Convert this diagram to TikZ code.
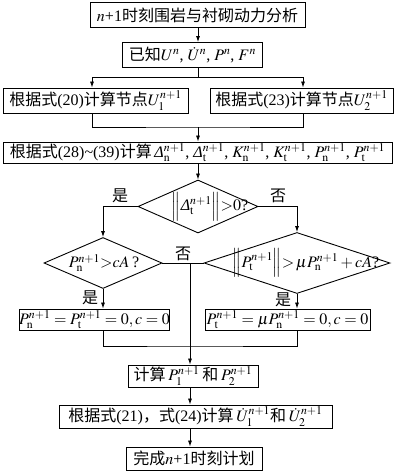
\documentclass[tikz,border=0pt]{standalone}
\usepackage{mathptmx}
\usepackage{fontspec}
\setmainfont{Liberation Serif}
\newfontfamily\cjk{Noto Sans CJK SC}
\usetikzlibrary{arrows.meta,shapes.geometric}
\begin{document}
\begin{tikzpicture}[x=1pt,y=-1pt,
  font=\fontsize{16}{19}\selectfont,
  box/.style={draw,line width=0.9pt,inner sep=0pt},
  dia/.style={draw,diamond,line width=0.9pt,inner sep=0pt},
  arr/.style={-{Latex[length=6pt,width=4pt]},line width=0.8pt},
  ln/.style={line width=0.8pt},
  lab/.style={inner sep=0pt}]
\useasboundingbox (0,0) rectangle (400,471);
% boxes
\node[box,minimum width=215,minimum height=25] (b1) at (197.5,15) {$n$+1{\cjk 时刻围岩与衬砌动力分析}};
\node[box,minimum width=140,minimum height=25] (b2) at (192.5,55) {{\cjk 已知}$U^n$, $\dot U^n$, $P^n$, $F^n$};
\node[box,minimum width=185,minimum height=25] (b3) at (95.5,100.5) {{\cjk 根据式}(20){\cjk 计算节点}$U_1^{n+1}$};
\node[box,minimum width=183,minimum height=25] (b4) at (301.5,100.5) {{\cjk 根据式}(23){\cjk 计算节点}$U_2^{n+1}$};
\node[box,minimum width=389,minimum height=21] (b5) at (197.5,152.5) {{\cjk 根据式}(28)\textasciitilde(39){\cjk 计算}\,$\textit{Δ}_{\mathrm n}^{n+1}$, $\textit{Δ}_{\mathrm t}^{n+1}$, $K_{\mathrm n}^{n+1}$, $K_{\mathrm t}^{n+1}$, $P_{\mathrm n}^{n+1}$, $P_{\mathrm t}^{n+1}$};
% diamonds
\node[dia,minimum width=120,minimum height=53] (d1) at (198,206.5) {};
\node[lab] (d1t) at (210,206.5) {$\Big\|\textit{Δ}_{\mathrm t}^{n+1}\Big\|{>}0$?};
\node[dia,minimum width=118,minimum height=51] (d2) at (103,263) {};
\node[lab] (d2t) at (104,263) {$P_{\mathrm n}^{n+1}{>}cA$\,?};
\node[dia,minimum width=186,minimum height=61] (d3) at (297,263) {};
\node[lab] (d3t) at (306,263) {$\Big\|P_{\mathrm t}^{n+1}\Big\|{>}\,\mu P_{\mathrm n}^{n+1}+cA$?};
% result boxes
\node[box,minimum width=147,minimum height=21] (b6) at (94.5,319.5) {$P_{\mathrm n}^{n+1}=P_{\mathrm t}^{n+1}=0, c=0$};
\node[box,minimum width=165,minimum height=21] (b7) at (287.5,319.5) {$P_{\mathrm t}^{n+1}=\mu P_{\mathrm n}^{n+1}=0, c=0$};
\node[box,minimum width=130,minimum height=22] (b8) at (193,376) {{\cjk 计算}\,$P_1^{n+1}$\,{\cjk 和}\,$P_2^{n+1}$};
\node[box,minimum width=273,minimum height=23] (b9) at (195.5,416.5) {{\cjk 根据式}(21){\cjk ，式}(24){\cjk 计算}\,$\dot U_1^{n+1}${\cjk 和}\,$\dot U_2^{n+1}$};
\node[box,minimum width=136,minimum height=23] (b10) at (194,458.5) {{\cjk 完成}$n$+1{\cjk 时刻计划}};
% labels
\node[lab] (ly1) at (120,196) {\cjk 是};
\node[lab] (ln1) at (278,196) {\cjk 否};
\node[lab] (ln2) at (183,254) {\cjk 否};
\node[lab] (ly2) at (90,298) {\cjk 是};
\node[lab] (ly3) at (283,300) {\cjk 是};
% connectors
\coordinate (sp) at (198,0);
\coordinate (j1) at (198,77);
\coordinate (l1) at (92,77);
\coordinate (r1) at (303,77);
\coordinate (j2) at (198,127);
\coordinate (nv) at (190,263);
\coordinate (j3) at (190,346);
\draw[arr] (b1.south -| sp) -- (b2.north -| sp);
\draw[ln] (b2.south -| sp) -- (j1);
\draw[ln] (l1) -- (r1);
\draw[arr] (l1) -- (l1 |- b3.north);
\draw[arr] (r1) -- (r1 |- b4.north);
\draw[ln] (b3.south -| l1) |- (j2) -| (b4.south -| r1);
\draw[arr] (j2) -- (j2 |- b5.north);
\draw[arr] (b5.south -| d1.north) -- (d1.north);
\draw[arr] (d1.west) -| (d2.north);
\draw[arr] (d1.east) -| (d3.north);
\draw[ln] (d2.east) -- (d3.west);
\draw[arr] (nv) -- (nv |- b8.north);
\draw[arr] (d2.south) -- (d2.south |- b6.north);
\draw[arr] (d3.south) -- (d3.south |- b7.north);
\draw[ln] (b6.south -| d2.south) |- (j3) -| (b7.south -| d3.south);
\draw[arr] (b8.south -| nv) -- (b9.north -| nv);
\draw[arr] (b9.south -| nv) -- (b10.north -| nv);
\end{tikzpicture}
\end{document}
